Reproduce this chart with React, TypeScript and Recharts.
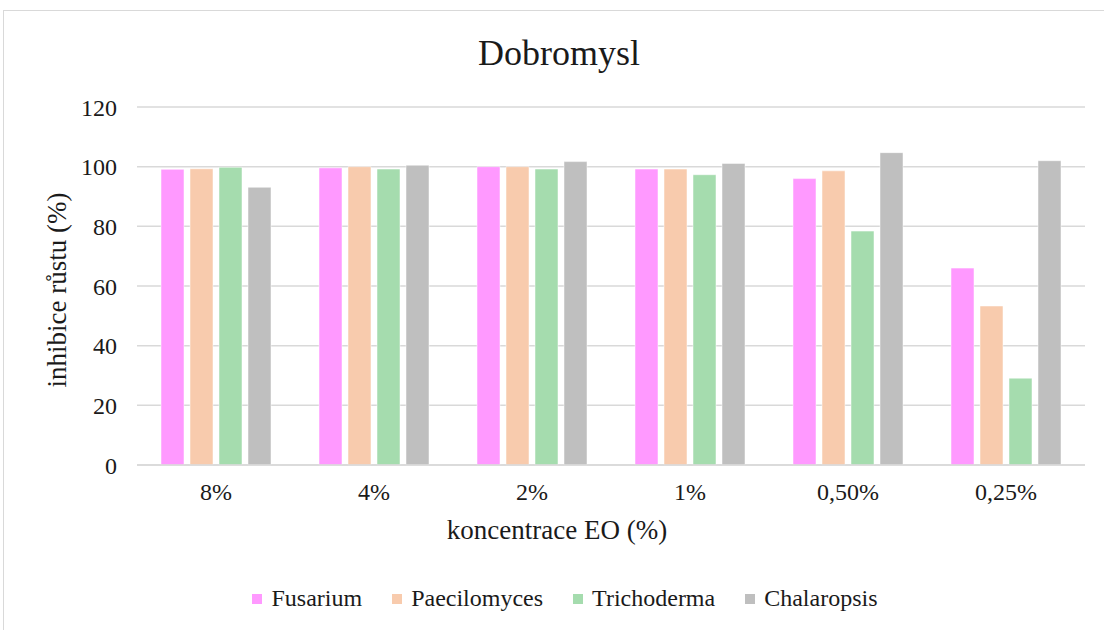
import { Bar, BarChart, CartesianGrid, Legend, XAxis, YAxis } from "recharts";

const concentrations = ["8%", "4%", "2%", "1%", "0,50%", "0,25%"];
const fusarium = [99.1, 99.6, 100, 99.2, 96.0, 66.0];
const paecilomyces = [99.3, 100, 100, 99.2, 98.6, 53.3];
const trichoderma = [99.8, 99.2, 99.2, 97.3, 78.4, 29.1];
const chalaropsis = [93.1, 100.5, 101.7, 101.1, 104.7, 102.0];
const yTicks = [0, 20, 40, 60, 80, 100, 120];

const data = concentrations.map((c, i) => ({
  name: c,
  Fusarium: fusarium[i],
  Paecilomyces: paecilomyces[i],
  Trichoderma: trichoderma[i],
  Chalaropsis: chalaropsis[i],
}));

const font = "Liberation Serif, Times New Roman, serif";
const textColor = "#1a1a1a";

// legend drawn like Excel: small squares, wide spacing
const renderLegend = (props: any) => {
  const items = props.payload || [];
  return (
    <div style={{ display: "flex", justifyContent: "center", fontFamily: font, fontSize: 24 }}>
      {items.map((it: any, i: number) => (
        <div
          key={it.value}
          style={{
            display: "flex",
            alignItems: "center",
            marginLeft: i === 0 ? 0 : 30,
            color: textColor,
          }}
        >
          <span
            style={{
              display: "inline-block",
              width: 10,
              height: 10,
              background: it.color,
              marginRight: 9,
            }}
          />
          <span>{it.value}</span>
        </div>
      ))}
    </div>
  );
};

export default function App() {
  return (
    <div
      style={{
        position: "fixed",
        top: 0,
        left: 0,
        width: 1104,
        height: 630,
        overflow: "hidden",
        background: "#fff",
        fontFamily: font,
      }}
    >
      <div
        style={{
          position: "absolute",
          left: 3,
          top: 10,
          width: 1130,
          height: 660,
          border: "1px solid #d9d9d9",
        }}
      />
      <div
        style={{
          position: "absolute",
          left: 0,
          width: 1118,
          top: 32,
          textAlign: "center",
          fontSize: 36,
          color: textColor,
        }}
      >
        Dobromysl
      </div>
      <div
        style={{
          position: "absolute",
          left: 0,
          width: 1114,
          top: 515,
          textAlign: "center",
          fontSize: 27,
          color: textColor,
        }}
      >
        koncentrace EO (%)
      </div>
      <div
        style={{
          position: "absolute",
          left: 57,
          top: 290,
          transform: "translate(-50%, -50%) rotate(-90deg)",
          whiteSpace: "nowrap",
          fontSize: 27,
          color: textColor,
        }}
      >
        inhibice růstu (%)
      </div>
      <BarChart
        width={1104}
        height={630}
        data={data}
        margin={{ top: 107, right: 19, bottom: 105, left: 0 }}
        barSize={23}
        barGap={6}
        style={{ position: "absolute", top: 0, left: 0, fontFamily: font }}
      >
        <CartesianGrid vertical={false} stroke="#d9d9d9" strokeWidth={1.5} />
        <XAxis
          dataKey="name"
          height={60}
          tickLine={false}
          tickSize={0}
          tickMargin={18}
          axisLine={{ stroke: "#d9d9d9", strokeWidth: 1.5 }}
          tick={{ fill: textColor, fontSize: 24, fontFamily: font }}
        />
        <YAxis
          width={137}
          domain={[0, 120]}
          ticks={yTicks}
          tickLine={false}
          axisLine={false}
          tickSize={0}
          tickMargin={20}
          tick={{ fill: textColor, fontSize: 24, fontFamily: font }}
        />
        <Legend
          verticalAlign="middle"
          layout="horizontal"
          itemSorter={null as any}
          content={renderLegend}
          wrapperStyle={{ top: 585, left: 0, width: 1130 }}
        />
        <Bar dataKey="Fusarium" fill="#ff99ff" stroke="#fff" strokeWidth={0.5} isAnimationActive={false} />
        <Bar dataKey="Paecilomyces" fill="#f8cbad" stroke="#fff" strokeWidth={0.5} isAnimationActive={false} />
        <Bar dataKey="Trichoderma" fill="#a5dcae" stroke="#fff" strokeWidth={0.5} isAnimationActive={false} />
        <Bar dataKey="Chalaropsis" fill="#bfbfbf" stroke="#fff" strokeWidth={0.5} isAnimationActive={false} />
      </BarChart>
    </div>
  );
}
